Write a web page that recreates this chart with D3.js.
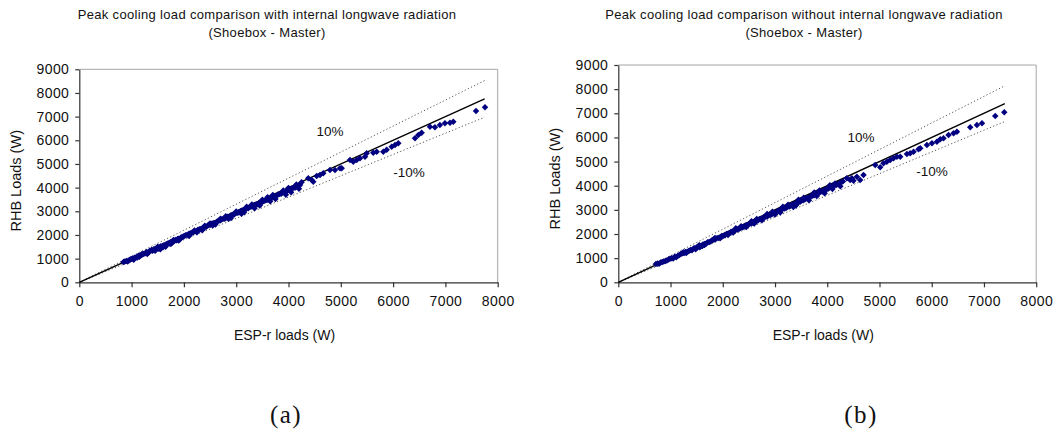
<!DOCTYPE html>
<html>
<head>
<meta charset="utf-8">
<script src="https://cdn.jsdelivr.net/npm/d3@7"></script>
<style>
  html, body { margin: 0; padding: 0; background: #fff; }
  svg { display: block; }
  text { font-family: "Liberation Sans", Arial, sans-serif; fill: #111; }
</style>
</head>
<body>
<svg id="fig" width="1055" height="437"></svg>
<script>
// Axis ticks shared by both panels
const xTicks = [0, 1000, 2000, 3000, 4000, 5000, 6000, 7000, 8000];
const yTicks = [0, 1000, 2000, 3000, 4000, 5000, 6000, 7000, 8000, 9000];

// Panel (a): with internal longwave radiation  [ESP-r load, RHB load] in W
const withLongwave = [
  [845,860],[870,880],[900,905],[925,880],[950,930],[975,960],[1000,990],[1020,1010],[1040,950],[1060,1040],
  [1090,1060],[1110,1050],[1130,1120],[1150,1080],[1180,1150],[1200,1170],[1230,1200],[1260,1230],[1290,1280],[1320,1250],
  [1350,1330],[1380,1360],[1400,1330],[1420,1390],[1440,1400],[1460,1380],[1480,1440],[1500,1450],[1520,1420],[1540,1480],
  [1560,1520],[1580,1500],[1600,1550],[1620,1570],[1640,1560],[1660,1610],[1680,1620],[1700,1650],[1720,1640],[1740,1690],
  [1760,1700],[1780,1680],[1800,1740],[1820,1760],[1840,1790],[1860,1780],[1880,1830],[1900,1840],[1920,1810],[1940,1880],
  [1960,1900],[1980,1920],[2000,1950],[1450,1330],[1750,1620],[1550,1400],[1650,1500],
  [1300,1200],[1600,1480],[1900,1770],[1200,1200],[1500,1500],[1800,1790],
  [2030,1990],[2060,2000],[2090,2040],[2120,2070],[2150,2080],[2180,2130],[2210,2150],[2240,2170],[2270,2220],[2300,2240],
  [2330,2250],[2360,2300],[2390,2330],[2420,2340],[2450,2390],[2480,2420],[2510,2430],[2540,2480],[2570,2500],[2600,2510],
  [2630,2560],[2660,2600],[2690,2610],[2720,2650],[2750,2680],[2780,2690],[2810,2740],[2840,2770],[2870,2780],[2900,2830],
  [2930,2850],[2960,2860],[2990,2920],[3020,2940],[3050,2950],[3080,3000],[3110,3030],[3140,3040],[3170,3090],[3200,3120],
  [3230,3130],[3260,3180],[3290,3200],[3320,3210],[3350,3270],[3380,3290],[3410,3300],[3440,3360],[3470,3380],[3500,3390],
  [3530,3440],[3560,3470],[3590,3480],[3620,3540],[3650,3560],[3680,3570],[3710,3620],[3740,3650],[3770,3660],[3800,3710],
  [3830,3730],[3860,3740],[3890,3800],[3920,3820],[3950,3830],[3980,3880],[4010,3900],[4040,3910],[4070,3970],[4100,3990],
  [4130,4000],[4160,4060],[4190,4080],[4220,4110],
  [2250,2110],[2550,2400],[2850,2680],[3150,2960],[3450,3240],[3750,3520],[4050,3800],
  [2100,1960],[2350,2200],[2600,2440],[2900,2720],[3100,2900],[3350,3130],[3650,3420],[3950,3700],[4200,3950],
  [2400,2390],[2800,2790],[3300,3290],[3600,3590],[3900,3880],[4150,4130],
  [2200,2190],[2500,2490],[2700,2690],[3000,2990],[3200,3190],[3500,3490],[3700,3690],[4000,3990],[4250,4230],
  [4378,4393],[4443,4322],[4474,4250],[4539,4491],[4602,4533],[4665,4604],[4793,4745],[4889,4745],[4985,4816],[5017,4816],
  [5176,5167],[5239,5095],[5304,5167],[5367,5239],[5463,5306],[5495,5450],[5621,5476],[5686,5518],[5813,5518],[5877,5600],
  [5973,5729],[6036,5800],[6100,5873],[6419,6083],[6482,6223],[6546,6320],[6705,6574],[6800,6548],[6895,6645],[6991,6717],
  [7088,6743],[7151,6785],[7585,7237],[7757,7393]
];

// Panel (b): without internal longwave radiation  [ESP-r load, RHB load] in W
const withoutLongwave = [
  [720,760],[750,780],[780,770],[810,820],[840,840],[870,860],[900,880],[930,900],[960,940],[990,980],
  [1020,1000],[1050,990],[1080,1060],[1110,1040],[1140,1100],[1170,1130],[1200,1180],[1230,1200],[1260,1210],[1290,1260],
  [1320,1270],[1350,1300],[1380,1340],[1410,1330],[1440,1400],[1470,1420],[1500,1430],[1530,1480],[1560,1500],[1590,1510],
  [1620,1570],[1650,1590],[1680,1600],[1710,1660],[1740,1670],[1770,1690],[1800,1750],[1830,1760],[1860,1780],[1890,1830],
  [1920,1840],[1950,1870],[1980,1920],[2010,1930],[1480,1370],[1560,1450],[1610,1500],
  [1300,1210],[1650,1540],[1950,1820],[1250,1250],[1550,1540],[1850,1840],
  [2040,1950],[2070,2000],[2100,2010],[2130,2040],[2160,2090],[2190,2100],[2220,2130],[2250,2180],[2280,2190],[2310,2210],
  [2340,2260],[2370,2270],[2400,2300],[2430,2350],[2460,2360],[2490,2390],[2520,2440],[2550,2450],[2580,2470],[2610,2520],
  [2640,2530],[2670,2560],[2700,2610],[2730,2620],[2760,2650],[2790,2700],[2820,2710],[2850,2730],[2880,2780],[2910,2790],
  [2940,2820],[2970,2870],[3000,2880],[3030,2910],[3060,2960],[3090,2970],[3120,3000],[3150,3050],[3180,3060],[3210,3080],
  [3240,3130],[3270,3140],[3300,3170],[3330,3220],[3360,3230],[3390,3260],[3420,3310],[3450,3320],[3480,3340],[3510,3390],
  [3540,3400],[3570,3430],[3600,3480],[3630,3490],[3660,3520],[3690,3570],[3720,3580],[3750,3610],[3780,3660],[3810,3670],
  [3840,3700],[3870,3750],[3900,3760],[3930,3790],[3960,3840],[3990,3850],[4020,3880],[4050,3930],[4080,3940],[4110,3970],
  [4140,4020],[4170,4030],[4200,4060],[4230,4100],[4260,4120],[4300,4180],
  [2350,2320],[2650,2620],[2950,2920],[3250,3210],[3550,3500],[3850,3800],[4150,4090],
  [2200,2060],[2600,2430],[3000,2810],[3400,3180],[3800,3570],[4100,3860],
  [2100,1960],[2450,2290],[2750,2570],[3100,2890],[3350,3120],[3650,3400],[3950,3690],[4250,3980],
  [2250,2240],[2550,2530],[2850,2830],[3150,3130],[3450,3420],[3750,3720],[4050,4020],
  [4375,4308],[4438,4238],[4471,4308],[4502,4209],[4567,4375],[4630,4238],[4694,4445],
  [4918,4859],[5013,4764],[5077,4930],[5141,4996],[5205,5066],[5268,5137],[5333,5203],[5396,5203],[5525,5315],[5588,5344],
  [5652,5410],[5747,5510],[5780,5551],[5908,5688],[6004,5758],[6100,5824],[6163,5924],[6226,5965],[6322,6102],[6418,6172],
  [6483,6239],[6737,6421],[6866,6516],[6962,6587],[7216,6889],[7389,7042]
];

// Extent of the 1:1 reference line and the ±10% bands
const refEndA = 7750;
const refEndB = 7400;

const panels = [
  { title: "Peak cooling load comparison with internal longwave radiation", data: withLongwave, refEnd: refEndA,
    left: 79.3, right: 497.7, top: 69.3, bottom: 282.3, titleX: 267, tag: "(a)", tagX: 286,
    plusLbl: [330, 136], minusLbl: [409, 177] },
  { title: "Peak cooling load comparison without internal longwave radiation", data: withoutLongwave, refEnd: refEndB,
    left: 618.3, right: 1036.2, top: 65, bottom: 282.3, titleX: 804, tag: "(b)", tagX: 861,
    plusLbl: [861, 142], minusLbl: [932, 176] }
];

const svg = d3.select("#fig");

panels.forEach(p => {
  const g = svg.append("g");
  const x = d3.scaleLinear().domain([0, 8000]).range([p.left, p.right]);
  const y = d3.scaleLinear().domain([0, 9000]).range([p.bottom, p.top]);

  // Titles
  [[p.title, 19], ["(Shoebox - Master)", 37]].forEach(([t, ty]) => {
    g.append("text").attr("x", p.titleX).attr("y", ty).attr("text-anchor", "middle")
      .style("font-size", "13px").style("letter-spacing", "0.33px").text(t);
  });

  // Plot frame (top and right)
  g.append("path")
    .attr("d", `M${p.left},${p.top}H${p.right}V${p.bottom}`)
    .attr("fill", "none").attr("stroke", "#a6a6a6").attr("stroke-width", 1);

  // Axes
  const xAxis = g.append("g").attr("transform", `translate(0,${p.bottom})`)
    .call(d3.axisBottom(x).tickValues(xTicks).tickFormat(d3.format("d")).tickSize(5).tickSizeOuter(0).tickPadding(9));
  const yAxis = g.append("g").attr("transform", `translate(${p.left},0)`)
    .call(d3.axisLeft(y).tickValues(yTicks).tickFormat(d3.format("d")).tickSize(4).tickSizeOuter(0).tickPadding(6));
  [xAxis, yAxis].forEach(a => {
    a.select(".domain").attr("stroke", "#333").attr("stroke-width", 1.2);
    a.selectAll(".tick line").attr("stroke", "#333").attr("stroke-width", 1.2);
    a.selectAll(".tick text").style("font-size", "14px").style("letter-spacing", "0.4px")
      .style("font-family", "Liberation Sans, Arial, sans-serif").attr("fill", "#111");
  });

  // Axis titles
  g.append("text").attr("x", (p.left + p.right) / 2 - 4).attr("y", 340).attr("text-anchor", "middle")
    .style("font-size", "14px").text("ESP-r loads (W)");
  g.append("text").attr("transform", `translate(${p.left - 58},${(p.top + p.bottom) / 2 + 5}) rotate(-90)`)
    .attr("text-anchor", "middle").style("font-size", "14.5px").text("RHB Loads (W)");

  // ±10% bands and 1:1 line
  const ref = [
    { k: 1.1, dash: "1.2,2.3", color: "#555", w: 1 },
    { k: 0.9, dash: "1.2,2.3", color: "#555", w: 1 },
    { k: 1.0, dash: null, color: "#000", w: 1.4 }
  ];
  ref.forEach(r => {
    g.append("line")
      .attr("x1", x(0)).attr("y1", y(0))
      .attr("x2", x(p.refEnd)).attr("y2", y(p.refEnd * r.k))
      .attr("stroke", r.color).attr("stroke-width", r.w)
      .attr("stroke-dasharray", r.dash);
  });

  // Data points (diamonds)
  const sym = d3.symbol().type(d3.symbolSquare).size(21);
  g.append("g").selectAll("path").data(p.data).join("path")
    .attr("d", sym)
    .attr("transform", d => `translate(${x(d[0])},${y(d[1])}) rotate(45)`)
    .attr("fill", "#000080");

  // Band labels
  g.append("text").attr("x", p.plusLbl[0]).attr("y", p.plusLbl[1]).attr("text-anchor", "middle")
    .style("font-size", "13.5px").text("10%");
  g.append("text").attr("x", p.minusLbl[0]).attr("y", p.minusLbl[1]).attr("text-anchor", "middle")
    .style("font-size", "13.5px").text("-10%");

  // Sub-figure tag
  g.append("text").attr("x", p.tagX).attr("y", 423).attr("text-anchor", "middle")
    .style("font-family", "Liberation Serif, 'Times New Roman', serif").style("font-size", "25px")
    .style("letter-spacing", "1.5px").text(p.tag);
});
</script>
</body>
</html>
